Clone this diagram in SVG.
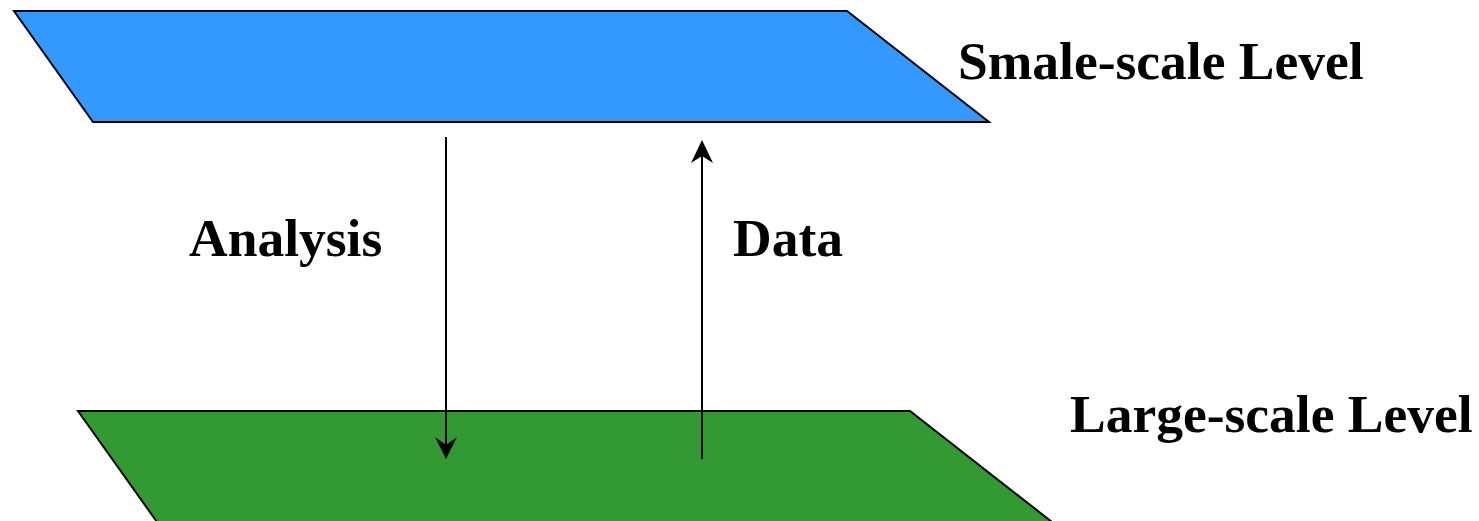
<svg xmlns="http://www.w3.org/2000/svg" width="1479" height="521" viewBox="0 0 1479 521">
<style>
.lvl{stroke:#000;stroke-width:2;stroke-linejoin:miter}
.lbl{font-family:"Liberation Serif","Times New Roman",serif;font-weight:bold;font-size:53.5px;fill:#000}
.conn line{stroke:#000;stroke-width:2}
.conn path{fill:#000;stroke:none}
</style>
<rect width="1479" height="521" fill="#fff"/>
<g id="small-level">
<polygon class="lvl" points="14,11 847,11 989,122 93,122" fill="#3399ff"/>
<text class="lbl" x="958" y="79">Smale-scale Level</text>
</g>
<g id="large-level">
<polygon class="lvl" points="78,411 910,411 1052,522 157,522" fill="#339933"/>
<text class="lbl" x="1070" y="432">Large-scale Level</text>
</g>
<g id="analysis-label">
<text class="lbl" x="189" y="256">Analysis</text>
</g>
<g id="data-label">
<text class="lbl" x="733" y="256">Data</text>
</g>
<g class="conn" id="connectors">
<line x1="446" y1="137" x2="446" y2="448"/>
<path d="M446,459 L435,437 L446,445 L457,437 Z"/>
<line x1="702" y1="459" x2="702" y2="152"/>
<path d="M702,140 L691,163 L702,156 L713,163 Z"/>
</g>
</svg>
